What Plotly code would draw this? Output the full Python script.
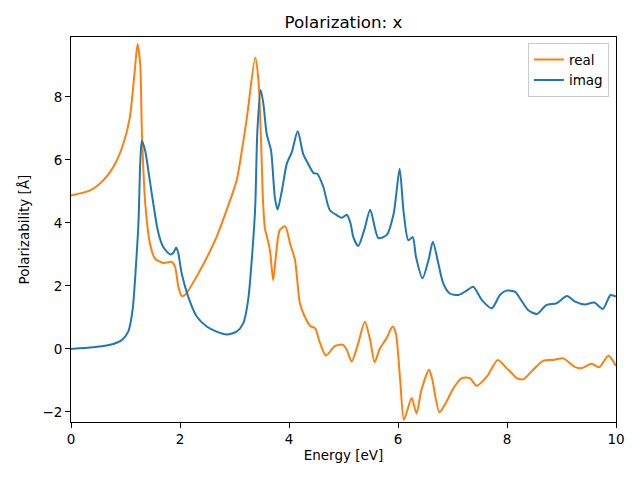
import plotly.graph_objects as go

energy_real = [0, 0.35, 0.59, 0.81, 0.96, 1.08, 1.17, 1.22, 1.27, 1.30, 1.36, 1.45, 1.54, 1.69, 1.85,
               1.91, 1.97, 2.03, 2.09, 2.37, 2.67, 2.92, 3.04, 3.22, 3.38, 3.44, 3.50, 3.52, 3.56, 3.59,
               3.65, 3.71, 3.77, 3.83, 3.93, 4.02, 4.11, 4.20, 4.29, 4.39, 4.48, 4.57, 4.68, 4.84, 4.99,
               5.06, 5.15, 5.27, 5.39, 5.49, 5.57, 5.67, 5.79, 5.90, 5.96, 6.04, 6.11, 6.25, 6.34, 6.43,
               6.57, 6.63, 6.76, 6.89, 7.02, 7.17, 7.32, 7.44, 7.63, 7.83, 7.99, 8.09, 8.18, 8.30, 8.48,
               8.67, 8.85, 9.03, 9.25, 9.37, 9.55, 9.69, 9.86, 10.0]
real_vals = [4.87, 5.03, 5.35, 5.88, 6.51, 7.35, 8.83, 9.67, 9.04, 6.93, 4.67, 3.34, 2.87, 2.73, 2.76,
             2.60, 1.97, 1.68, 1.71, 2.50, 3.55, 4.72, 5.35, 7.25, 9.25, 8.51, 5.90, 4.80, 3.80, 3.60,
             3.13, 2.18, 3.13, 3.77, 3.89, 3.34, 2.82, 1.45, 1.02, 0.73, 0.65, 0.18, -0.21, 0.09, 0.13,
             -0.03, -0.40, 0.18, 0.86, 0.28, -0.42, 0.02, 0.34, 0.71, 0.50, -1.00, -2.25, -1.56, -2.05, -1.30,
             -0.66, -0.98, -2.01, -1.67, -1.24, -0.93, -0.93, -1.17, -0.88, -0.35, -0.61, -0.77, -0.93, -0.96, -0.66,
             -0.37, -0.35, -0.30, -0.58, -0.61, -0.47, -0.58, -0.22, -0.54]

energy_imag = [0, 0.41, 0.72, 0.93, 1.05, 1.13, 1.19, 1.24, 1.27, 1.30, 1.36, 1.45, 1.52, 1.60, 1.69,
               1.82, 1.88, 1.93, 1.97, 2.03, 2.15, 2.31, 2.49, 2.67, 2.86, 3.04, 3.16, 3.25, 3.33, 3.38,
               3.42, 3.48, 3.53, 3.59, 3.67, 3.74, 3.79, 3.87, 3.96, 4.05, 4.16, 4.26, 4.35, 4.45, 4.52,
               4.63, 4.75, 4.88, 4.97, 5.06, 5.13, 5.18, 5.27, 5.38, 5.49, 5.64, 5.79, 5.92, 6.03, 6.10,
               6.19, 6.27, 6.33, 6.45, 6.56, 6.64, 6.74, 6.83, 6.95, 7.11, 7.26, 7.38, 7.54, 7.72, 7.87,
               7.99, 8.15, 8.24, 8.39, 8.55, 8.72, 8.91, 9.10, 9.25, 9.43, 9.60, 9.76, 9.90, 10.0]
imag_vals = [0, 0.05, 0.13, 0.28, 0.55, 1.23, 2.60, 4.10, 5.88, 6.61, 6.30, 5.30, 4.50, 3.70, 3.24,
             3.00, 3.05, 3.22, 3.03, 2.40, 1.66, 1.02, 0.71, 0.55, 0.46, 0.55, 0.81, 1.55, 3.13, 4.50,
             6.93, 8.22, 7.78, 6.83, 6.30, 4.82, 4.42, 5.03, 5.88, 6.24, 6.91, 6.19, 5.88, 5.58, 5.56,
             5.14, 4.40, 4.24, 4.16, 4.26, 3.98, 3.55, 3.27, 3.77, 4.42, 3.52, 3.61, 4.29, 5.72, 4.40,
             3.45, 3.55, 2.92, 2.24, 2.82, 3.40, 2.71, 2.08, 1.76, 1.71, 1.85, 1.97, 1.55, 1.29, 1.71,
             1.85, 1.81, 1.60, 1.23, 1.11, 1.39, 1.45, 1.68, 1.50, 1.41, 1.47, 1.27, 1.71, 1.66]

x_ticks = [0, 2, 4, 6, 8, 10]
y_ticks = [-2, 0, 2, 4, 6, 8]

FONT = "DejaVu Sans"

fig = go.Figure()
fig.add_trace(go.Scatter(x=energy_real, y=real_vals, mode="lines", name="real",
                         line=dict(color="#ff7f0e", width=2, shape="spline", smoothing=0.7)))
fig.add_trace(go.Scatter(x=energy_imag, y=imag_vals, mode="lines", name="imag",
                         line=dict(color="#1f77b4", width=2, shape="spline", smoothing=0.7)))

axis_common = dict(showline=True, linecolor="black", linewidth=1, mirror=True,
                   ticks="outside", ticklen=5, tickwidth=1, tickcolor="black",
                   showgrid=False, zeroline=False, automargin=False,
                   tickfont=dict(family=FONT, size=13.5, color="black"))

# page body has an 8px margin: figure is 632x472 placed at (8, 8)
W, H = 632, 472
fig.update_layout(
    width=W, height=H,
    margin=dict(l=63, r=24, t=29, b=58),
    paper_bgcolor="white", plot_bgcolor="white",
    font=dict(family=FONT, size=13.5, color="black"),
    title=dict(text="Polarization: x", x=0.5, xanchor="center", xref="paper",
               y=1 - 14 / H, yanchor="middle", font=dict(family=FONT, size=16.7)),
    xaxis=dict(range=[0, 10], tickvals=x_ticks,
               title=dict(text="Energy [eV]", standoff=4, font=dict(family=FONT, size=13.5)),
               **axis_common),
    yaxis=dict(range=[-2.32, 9.9], tickvals=y_ticks,
               title=dict(text="Polarizability [Å]", standoff=9, font=dict(family=FONT, size=13.5)),
               **axis_common),
    legend=dict(x=0.987, y=0.984, xanchor="right", yanchor="top",
                bgcolor="rgba(255,255,255,0.8)", bordercolor="#cccccc", borderwidth=1,
                font=dict(family=FONT, size=13.5)),
    showlegend=True,
)

fig.write_html("out.html")
